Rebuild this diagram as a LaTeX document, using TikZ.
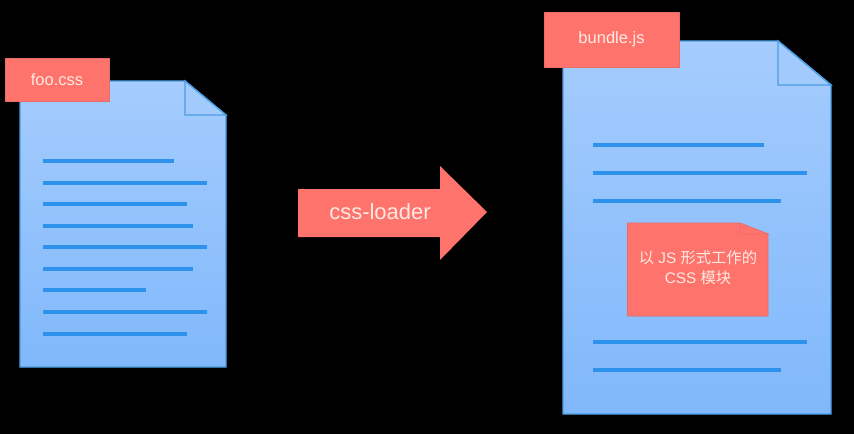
\documentclass[tikz,border=0pt]{standalone}
\usepackage{fontspec}
\setmainfont{Liberation Sans}
\newfontfamily\cjkfont{Noto Sans CJK SC}
\definecolor{labelred}{HTML}{FE746C}
\definecolor{labeledge}{HTML}{E86C6A}
\definecolor{labeltext}{HTML}{FFE9E2}
\definecolor{pagetop}{HTML}{A5CCFD}
\definecolor{pagebottom}{HTML}{80B8FB}
\definecolor{pageedge}{HTML}{4A9DE4}
\definecolor{textline}{HTML}{2C92EC}
\tikzset{
    x=1pt, y=-1pt,
    page/.style={draw=pageedge, line width=1.4pt, top color=pagetop, bottom color=pagebottom},
    fold/.style={draw=pageedge, line width=1.4pt, fill=pagetop!92!pagebottom},
    textrow/.style={draw=textline, line width=4pt},
    tagbox/.style={draw=labeledge, line width=0.6pt, fill=labelred},
    tagtext/.style={text=labeltext, inner sep=0pt, align=center}
}
\begin{document}
\begin{tikzpicture}
    \fill[black] (0, 0) rectangle (854, 434);
    \useasboundingbox (0, 0) rectangle (854, 434);

    % left file
    \coordinate (F1) at (185, 81);
    \coordinate (F2) at (226, 115);
    \draw[page] (20, 81) -- (F1) -- (F2) -- (226, 367) -- (20, 367) -- cycle;
    \draw[fold] (F1) -- (F2) -- (185, 115) -- cycle;
    \draw[textrow] (43, 160.5) -- (174, 160.5);
    \draw[textrow] (43, 182.5) -- (207, 182.5);
    \draw[textrow] (43, 204) -- (187, 204);
    \draw[textrow] (43, 225.5) -- (193, 225.5);
    \draw[textrow] (43, 247) -- (207, 247);
    \draw[textrow] (43, 268.5) -- (193, 268.5);
    \draw[textrow] (43, 290) -- (146, 290);
    \draw[textrow] (43, 312) -- (207, 312);
    \draw[textrow] (43, 333.5) -- (187, 333.5);
    \draw[tagbox] (5, 58.5) rectangle (109.5, 101.5);
    \node[tagtext, font=\fontsize{16.5}{20}\selectfont] (fooname) at (57, 79.5) {foo.css};

    % arrow
    \fill[labelred] (298, 189) -- (440, 189) -- (440, 166) -- (487, 212)
        -- (440, 260) -- (440, 237) -- (298, 237) -- cycle;
    \node[tagtext, font=\fontsize{22}{26}\selectfont] (loadername) at (380, 212) {css-loader};

    % right file
    \coordinate (G1) at (778, 41);
    \coordinate (G2) at (831, 85);
    \draw[page] (563, 41) -- (G1) -- (G2) -- (831, 414) -- (563, 414) -- cycle;
    \draw[fold] (G1) -- (G2) -- (778, 85) -- cycle;
    \draw[textrow] (593, 145) -- (764, 145);
    \draw[textrow] (593, 173) -- (807, 173);
    \draw[textrow] (593, 201) -- (781, 201);
    \draw[textrow] (593, 342) -- (807, 342);
    \draw[textrow] (593, 369.5) -- (781, 369.5);
    \draw[tagbox] (544.5, 12) rectangle (679, 67.5);
    \node[tagtext, font=\fontsize{16.5}{20}\selectfont] (bundlename) at (611.5, 39) {bundle.js};

    % module note
    \coordinate (N1) at (740, 223);
    \coordinate (N2) at (768, 234);
    \draw[tagbox] (627.5, 223) -- (N1) -- (N2) -- (768, 316) -- (627.5, 316) -- cycle;
    \draw[tagbox] (N1) -- (N2) -- (740, 234) -- cycle;
    \node[tagtext, font=\fontsize{15.3}{20}\selectfont] (modulename) at (698, 268)
        {{\cjkfont 以} JS {\cjkfont 形式工作的}\\CSS {\cjkfont 模块}};
\end{tikzpicture}
\end{document}
